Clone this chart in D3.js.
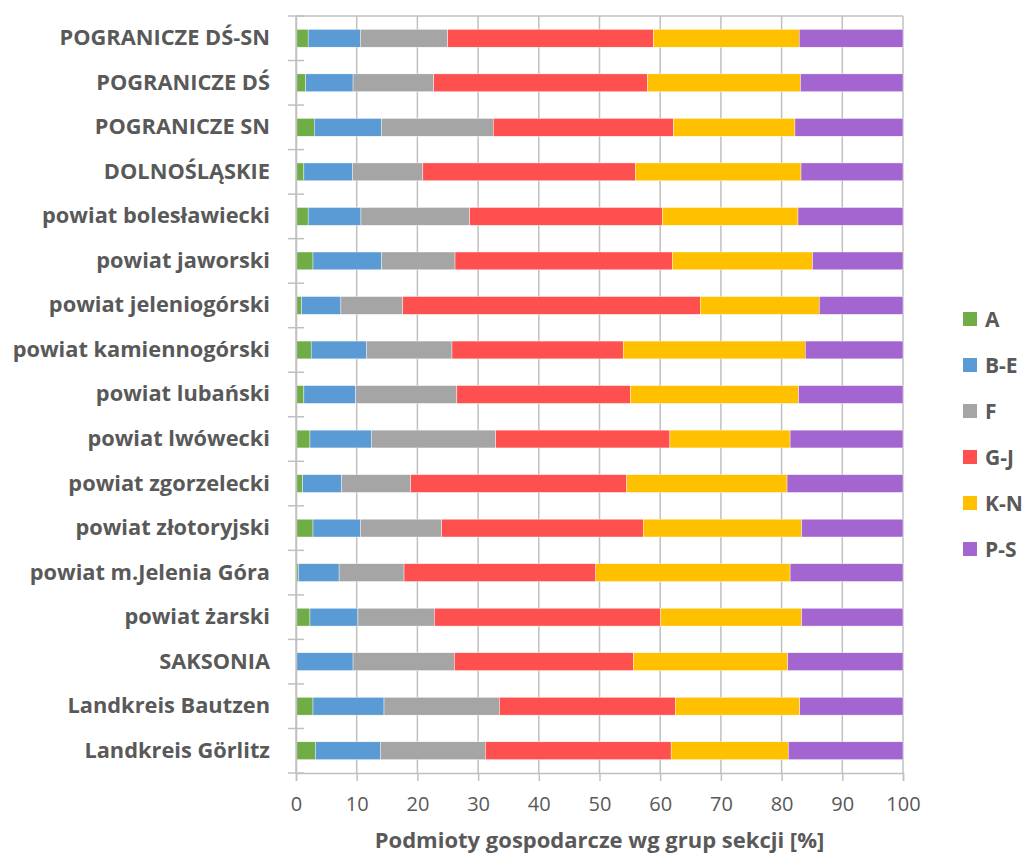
<!DOCTYPE html>
<html><head><meta charset="utf-8">
<script src="https://cdn.jsdelivr.net/npm/d3@7"></script>
<style>body{margin:0;background:#fff;} svg{display:block;}</style>
</head><body>
<svg id="chart" width="1025" height="855"></svg>
<script>
const categories = ["POGRANICZE DŚ-SN","POGRANICZE DŚ","POGRANICZE SN","DOLNOŚLĄSKIE","powiat bolesławiecki","powiat jaworski","powiat jeleniogórski","powiat kamiennogórski","powiat lubański","powiat lwówecki","powiat zgorzelecki","powiat złotoryjski","powiat m.Jelenia Góra","powiat żarski","SAKSONIA","Landkreis Bautzen","Landkreis Görlitz"];
const seriesNames = ["A","B-E","F","G-J","K-N","P-S"];
const A   = [2.0,1.6,3.0,1.3,2.0,2.8,0.9,2.5,1.3,2.3,1.1,2.8,0.4,2.3,0.1,2.8,3.2];
const BE  = [8.6,7.8,11.1,8.0,8.7,11.3,6.5,9.1,8.5,10.1,6.4,7.8,6.7,7.9,9.3,11.7,10.7];
const F   = [14.4,13.3,18.4,11.6,17.9,12.1,10.2,14.1,16.7,20.5,11.4,13.4,10.7,12.6,16.7,19.0,17.3];
const GJ  = [33.9,35.2,29.7,35.0,31.8,35.8,49.0,28.2,28.6,28.7,35.6,33.2,31.6,37.3,29.5,29.0,30.6];
const KN  = [24.0,25.2,20.0,27.3,22.3,23.1,19.6,30.0,27.7,19.8,26.4,26.1,32.0,23.2,25.4,20.5,19.3];
const PS  = [17.1,16.9,17.8,16.8,17.3,14.9,13.8,16.1,17.2,18.6,19.1,16.7,18.6,16.7,19.0,17.0,18.9];
const xTicks = [0,10,20,30,40,50,60,70,80,90,100];
const xTitle = "Podmioty gospodarcze wg grup sekcji [%]";
const colors = ["#70AD47","#5B9BD5","#A5A5A5","#FF5050","#FFC000","#A366D1"];

const seriesVals = [A,BE,F,GJ,KN,PS];
const rows = categories.map((c,i)=>{const o={cat:c}; seriesNames.forEach((s,j)=>o[s]=seriesVals[j][i]); return o;});
const stack = d3.stack().keys(seriesNames)(rows);

const svg = d3.select("#chart");
const pL=296, pR=903, pT=16, pB=773;
const x = d3.scaleLinear().domain([0,100]).range([pL,pR]);
const y = d3.scaleBand().domain(categories).range([pT,pB]).paddingInner(0.6).paddingOuter(0.3);
const yb = d3.scaleBand().domain(categories).range([pT,pB]);
const gridColor="#C0C0C0";
const font="'Open Sans', sans-serif";

// gridlines
svg.append("g").selectAll("line").data(xTicks).join("line")
  .attr("x1",d=>x(d)).attr("x2",d=>x(d)).attr("y1",pT).attr("y2",pB)
  .attr("stroke",gridColor).attr("stroke-width",1.5);
// top border
svg.append("line").attr("x1",pL).attr("x2",pR).attr("y1",pT).attr("y2",pT).attr("stroke",gridColor).attr("stroke-width",1.5);

// bars
svg.append("g").selectAll("g").data(stack).join("g").attr("fill",(d,i)=>colors[i])
  .selectAll("rect").data(d=>d).join("rect")
  .attr("x",d=>x(d[0])).attr("width",d=>Math.max(0,x(d[1])-x(d[0])))
  .attr("y",d=>y(d.data.cat)).attr("height",y.bandwidth())
  .attr("stroke","#fff").attr("stroke-width",0.4);

// y axis
const yAxis = d3.axisLeft(yb).tickSize(0).tickPadding(26);
const gy = svg.append("g").attr("transform",`translate(${pL},0)`).call(yAxis);
gy.select(".domain").attr("stroke",gridColor).attr("stroke-width",1.5);
gy.selectAll("text").attr("font-family",font).attr("font-weight","bold").attr("font-size",21.8).attr("fill","#595959");
// y category boundary ticks
const bounds = categories.map(c=>yb(c)).concat([pB]);
svg.append("g").selectAll("line").data(bounds).join("line")
  .attr("x1",pL-8).attr("x2",pL+8).attr("y1",d=>d).attr("y2",d=>d)
  .attr("stroke",gridColor).attr("stroke-width",1.5);

// x axis
const xAxis = d3.axisBottom(x).tickValues(xTicks).tickSize(8).tickPadding(16);
const gx = svg.append("g").attr("transform",`translate(0,${pB})`).call(xAxis);
gx.select(".domain").attr("stroke",gridColor).attr("stroke-width",1.5);
gx.selectAll(".tick line").attr("stroke",gridColor).attr("stroke-width",1.5);
gx.selectAll("text").attr("font-family",font).attr("font-size",20).attr("fill","#595959");

svg.append("text").attr("x",(pL+pR)/2).attr("y",848).attr("text-anchor","middle")
  .attr("font-family",font).attr("font-weight","bold").attr("font-size",22).attr("fill","#595959").text(xTitle);

// legend
const lg = svg.append("g").selectAll("g").data(seriesNames).join("g")
  .attr("transform",(d,i)=>`translate(963,${319+i*46})`);
lg.append("rect").attr("x",0).attr("y",-7).attr("width",14).attr("height",14).attr("fill",(d,i)=>colors[i]);
lg.append("text").attr("x",22).attr("y",0).attr("dy","0.36em").attr("font-family",font).attr("font-weight","bold")
  .attr("font-size",21).attr("fill","#595959").text(d=>d);
</script>
</body></html>
